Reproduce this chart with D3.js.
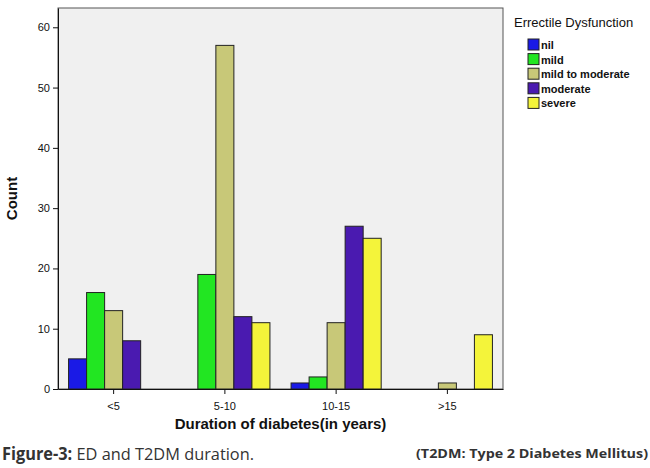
<!DOCTYPE html>
<html>
<head>
<meta charset="utf-8">
<script src="https://cdn.jsdelivr.net/npm/d3@7"></script>
<style>
  html, body { margin: 0; padding: 0; background: #fff; }
  svg { display: block; font-family: "Liberation Sans", Arial, sans-serif; }
</style>
</head>
<body>
<svg id="chart" width="650" height="468"></svg>
<script>
var categories = ["<5", "5-10", "10-15", ">15"];
var seriesNames = ["nil", "mild", "mild to moderate", "moderate", "severe"];
var colors = ["#1a1ae6", "#22e622", "#c8c878", "#4a1ab0", "#f4f43a"];
var nil      = [5, 0, 1, 0];
var mild     = [16, 19, 2, 0];
var mildMod  = [13, 57, 11, 1];
var moderate = [8, 12, 27, 0];
var severe   = [0, 11, 25, 9];
var yTicks = [0, 10, 20, 30, 40, 50, 60];

var values = [nil, mild, mildMod, moderate, severe];
var svg = d3.select("#chart");
var pLeft = 58, pRight = 503, pTop = 8, pBottom = 389;

var x = d3.scaleBand().domain(categories).range([pLeft, pRight]).paddingInner(0.19).paddingOuter(0.095);
var xs = d3.scaleBand().domain(seriesNames).range([0, x.bandwidth()]);
var y = d3.scaleLinear().domain([0, 63.2]).range([pBottom, pTop]);

svg.append("rect").attr("x", pLeft).attr("y", pTop).attr("width", pRight - pLeft).attr("height", pBottom - pTop)
  .attr("fill", "#f0f0f0").attr("stroke", "#555").attr("stroke-width", 1);

var data = [];
categories.forEach(function(c, i) {
  seriesNames.forEach(function(s, j) {
    if (values[j][i] > 0) data.push({c: c, s: s, v: values[j][i], col: colors[j]});
  });
});
svg.selectAll("rect.bar").data(data).enter().append("rect").attr("class", "bar")
  .attr("x", function(d) { return x(d.c) + xs(d.s); })
  .attr("y", function(d) { return y(d.v); })
  .attr("width", xs.bandwidth())
  .attr("height", function(d) { return pBottom - y(d.v); })
  .attr("fill", function(d) { return d.col; })
  .attr("stroke", "#222").attr("stroke-width", 1);

var yAxis = svg.append("g").attr("transform", "translate(" + pLeft + ",0)")
  .call(d3.axisLeft(y).tickValues(yTicks).tickSize(5).tickSizeOuter(0));
var xAxis = svg.append("g").attr("transform", "translate(0," + pBottom + ")")
  .call(d3.axisBottom(x).tickSize(5).tickSizeOuter(0));
[yAxis, xAxis].forEach(function(a) {
  a.selectAll("text").attr("font-size", 11).attr("fill", "#111");
  a.select(".domain").attr("stroke", "#111");
  a.selectAll("line").attr("stroke", "#111");
});
xAxis.selectAll("text").attr("dy", "1.2em");

svg.append("text").attr("x", (pLeft + pRight) / 2).attr("y", 429).attr("text-anchor", "middle")
  .attr("font-size", 15).attr("font-weight", "bold").attr("fill", "#111").text("Duration of diabetes(in years)");
svg.append("text").attr("transform", "translate(17," + ((pTop + pBottom) / 2) + ") rotate(-90)")
  .attr("text-anchor", "middle").attr("font-size", 15).attr("font-weight", "bold").attr("fill", "#111").text("Count");

// legend
svg.append("text").attr("x", 514).attr("y", 27).attr("font-size", 13).attr("fill", "#111").text("Errectile Dysfunction");
var lg = svg.selectAll("g.lg").data(seriesNames).enter().append("g")
  .attr("transform", function(d, i) { return "translate(528," + (39 + i * 14.6) + ")"; });
lg.append("rect").attr("width", 11).attr("height", 11).attr("fill", function(d, i) { return colors[i]; })
  .attr("stroke", "#222");
lg.append("text").attr("x", 13).attr("y", 10).attr("font-size", 11).attr("font-weight", "bold")
  .attr("fill", "#111").text(function(d) { return d; });

// caption
var cap = svg.append("text").attr("x", 2).attr("y", 460).attr("font-family", "'Open Sans', sans-serif")
  .attr("font-size", 17).attr("fill", "#333").attr("textLength", 252).attr("lengthAdjust", "spacingAndGlyphs");
cap.append("tspan").attr("font-weight", "bold").text("Figure-3: ");
cap.append("tspan").text("ED and T2DM duration.");
svg.append("text").attr("x", 648).attr("y", 458).attr("text-anchor", "end").attr("font-family", "'Open Sans', sans-serif")
  .attr("font-size", 13).attr("font-weight", "bold").attr("fill", "#333")
  .attr("textLength", 232).attr("lengthAdjust", "spacingAndGlyphs").text("(T2DM: Type 2 Diabetes Mellitus)");
</script>
</body>
</html>
